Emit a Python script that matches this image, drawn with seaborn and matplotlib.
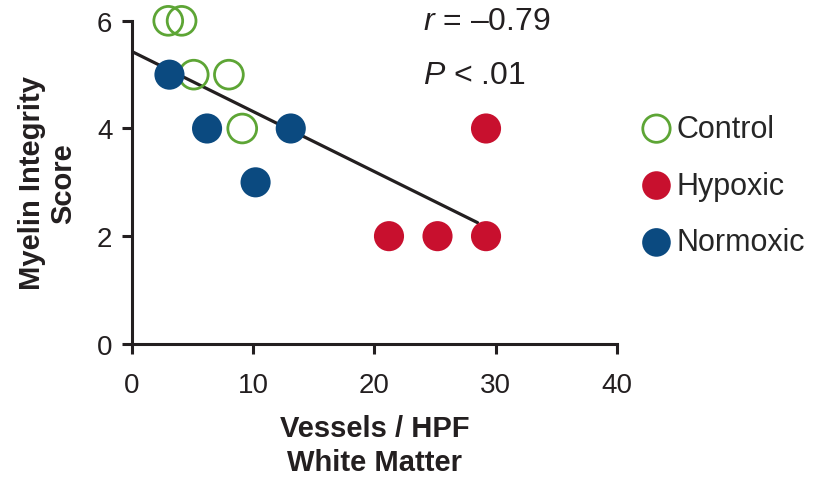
import numpy as np
import pandas as pd
import seaborn as sns
import matplotlib.pyplot as plt

# data
control_vessels = [3, 4.1, 5.1, 8, 9.1]
control_score = [6, 6, 5, 5, 4]
hypoxic_vessels = [21.2, 25.2, 29.2, 29.2]
hypoxic_score = [2, 2, 2, 4]
normoxic_vessels = [3.1, 6.2, 10.2, 13.1]
normoxic_score = [5, 4, 3, 4]

x_ticks = [0, 10, 20, 30, 40]
y_ticks = [0, 2, 4, 6]

GREEN = "#5da535"
RED = "#c8102e"
NAVY = "#0b4a80"
INK = "#231f20"

sns.set_theme(style="ticks")
plt.rcParams["font.family"] = ["Liberation Sans", "DejaVu Sans"]
plt.rcParams["mathtext.fontset"] = "custom"
plt.rcParams["mathtext.rm"] = "Liberation Sans"
plt.rcParams["mathtext.it"] = "Liberation Sans:italic"

all_df = pd.DataFrame({
    "Vessels": control_vessels + hypoxic_vessels + normoxic_vessels,
    "Score": control_score + hypoxic_score + normoxic_score,
})

fig = plt.figure(figsize=(8.14, 4.85), dpi=100)
ax = fig.add_axes([0.162, 0.289, 0.596, 0.666])

# regression line, drawn from x=0 to about 28.5 like the original
ax.set_xlim(0, 28.5)
sns.regplot(data=all_df, x="Vessels", y="Score", scatter=False, ci=None,
            truncate=False, color=INK, line_kws={"lw": 2.3, "zorder": 1}, ax=ax)

marker_size = 470
sns.scatterplot(x=control_vessels, y=control_score, s=marker_size - 40, color=GREEN,
                facecolors="none", edgecolor=GREEN, linewidth=2.0, label="Control",
                clip_on=False, zorder=3, ax=ax)
sns.scatterplot(x=hypoxic_vessels, y=hypoxic_score, s=marker_size, color=RED,
                edgecolor="none", label="Hypoxic", clip_on=False, zorder=3, ax=ax)
sns.scatterplot(x=normoxic_vessels, y=normoxic_score, s=marker_size, color=NAVY,
                edgecolor="none", label="Normoxic", clip_on=False, zorder=3, ax=ax)

ax.set_xlim(0, 40)
ax.set_ylim(0, 6)
ax.set_xticks(x_ticks)
ax.set_yticks(y_ticks)
sns.despine(ax=ax)
for side in ["left", "bottom"]:
    ax.spines[side].set_linewidth(2.2)
    ax.spines[side].set_color(INK)
ax.tick_params(axis="both", length=7, width=2.2, color=INK,
               labelsize=20, labelcolor=INK)
ax.tick_params(axis="x", pad=13)
ax.tick_params(axis="y", pad=7)

ax.set_xlabel("Vessels / HPF\nWhite Matter", fontsize=21, fontweight="bold",
              color=INK, labelpad=12, linespacing=1.25)
ax.set_ylabel("Myelin Integrity\nScore", fontsize=21, fontweight="bold",
              color=INK, labelpad=14, linespacing=1.15)

ax.text(24, 6.0, "$\\mathit{r}$ = \u20130.79", fontsize=23, color=INK,
        va="center", ha="left")
ax.text(24, 5.0, "$\\mathit{P}$ < .01", fontsize=23, color=INK,
        va="center", ha="left")

ax.legend(loc="center left", bbox_to_anchor=(0.99, 0.49), frameon=False,
          fontsize=22, labelspacing=0.88, handletextpad=0.1, markerscale=0.95,
          borderaxespad=0.5, handlelength=1.1)

fig.savefig("out.png", dpi=100)
